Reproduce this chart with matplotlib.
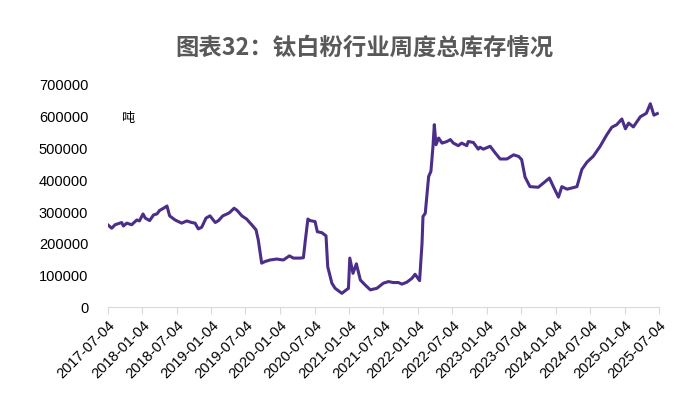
import pandas as pd
import matplotlib.pyplot as plt
import matplotlib.dates as mdates
from matplotlib.ticker import FuncFormatter

plt.rcParams['font.family'] = ['Liberation Sans', 'Noto Sans CJK SC', 'DejaVu Sans']

# 钛白粉行业周度总库存（吨）
dates = [
    '2017-07-04', '2017-07-25', '2017-08-12', '2017-09-16', '2017-09-25', '2017-10-13',
    '2017-11-08', '2017-12-05', '2017-12-19', '2018-01-07', '2018-01-19', '2018-02-11',
    '2018-03-04', '2018-03-22', '2018-04-05', '2018-04-26', '2018-05-14', '2018-05-28',
    '2018-06-26', '2018-07-31', '2018-08-27', '2018-09-22', '2018-10-10', '2018-10-27',
    '2018-11-14', '2018-12-07', '2018-12-28', '2019-01-25', '2019-02-11', '2019-03-06',
    '2019-04-05', '2019-04-14', '2019-05-05', '2019-05-21', '2019-06-15', '2019-07-10',
    '2019-08-06', '2019-08-29', '2019-09-10', '2019-09-28', '2019-10-15', '2019-11-11',
    '2019-12-16', '2020-01-21', '2020-02-22', '2020-03-14', '2020-04-19', '2020-05-06',
    '2020-05-16', '2020-05-30', '2020-06-11', '2020-07-07', '2020-07-19', '2020-08-12',
    '2020-09-03', '2020-09-12', '2020-10-04', '2020-10-21', '2020-11-08', '2020-11-26',
    '2020-12-13', '2020-12-31', '2021-01-07', '2021-01-24', '2021-02-11', '2021-03-04',
    '2021-03-30', '2021-04-26', '2021-05-31', '2021-07-04', '2021-07-31', '2021-08-26',
    '2021-09-22', '2021-10-10', '2021-11-05', '2021-12-02', '2021-12-19', '2022-01-12',
    '2022-01-25', '2022-01-30', '2022-02-11', '2022-03-01', '2022-03-13', '2022-03-24',
    '2022-03-31', '2022-04-09', '2022-04-23', '2022-05-11', '2022-06-06', '2022-06-24',
    '2022-07-10', '2022-08-05', '2022-08-23', '2022-09-19', '2022-09-27', '2022-10-24',
    '2022-11-19', '2022-11-28', '2022-12-16', '2023-01-21', '2023-02-17', '2023-03-15',
    '2023-04-20', '2023-05-25', '2023-06-21', '2023-07-07', '2023-07-25', '2023-08-20',
    '2023-10-03', '2023-10-30', '2023-12-01', '2023-12-22', '2024-01-18', '2024-02-05',
    '2024-03-03', '2024-03-31', '2024-04-25', '2024-05-21', '2024-06-17', '2024-07-21',
    '2024-08-26', '2024-09-30', '2024-10-27', '2024-11-22', '2024-12-19', '2025-01-07',
    '2025-01-24', '2025-02-18', '2025-03-27', '2025-04-28', '2025-05-19', '2025-06-07',
    '2025-06-25',
]
kucun = [
    260000, 249000, 260000, 267000, 256000, 265000,
    260000, 275000, 272000, 294000, 281000, 273000,
    291000, 294000, 305000, 312000, 319000, 288000,
    275000, 265000, 272000, 267000, 265000, 247000,
    252000, 281000, 288000, 267000, 273000, 288000,
    296000, 300000, 312000, 305000, 288000, 278000,
    260000, 244000, 212000, 139000, 144000, 149000,
    152000, 149000, 162000, 155000, 155000, 156000,
    209000, 278000, 273000, 270000, 238000, 235000,
    225000, 128000, 76000, 60000, 52000, 44000,
    52000, 60000, 155000, 107000, 137000, 86000,
    70000, 55000, 60000, 76000, 81000, 78000,
    78000, 73000, 79000, 91000, 104000, 84000,
    202000, 286000, 296000, 412000, 428000, 507000,
    575000, 512000, 533000, 517000, 522000, 528000,
    517000, 509000, 517000, 509000, 522000, 519000,
    498000, 504000, 498000, 507000, 486000, 467000,
    467000, 480000, 475000, 465000, 410000, 380000,
    378000, 391000, 407000, 380000, 347000, 380000,
    372000, 376000, 380000, 434000, 457000, 476000,
    507000, 543000, 567000, 575000, 593000, 562000,
    580000, 568000, 600000, 611000, 641000, 605000,
    610000,
]
tick_labels = [
    '2017-07-04', '2018-01-04', '2018-07-04', '2019-01-04', '2019-07-04', '2020-01-04',
    '2020-07-04', '2021-01-04', '2021-07-04', '2022-01-04', '2022-07-04', '2023-01-04',
    '2023-07-04', '2024-01-04', '2024-07-04', '2025-01-04', '2025-07-04',
]

fig = plt.figure(figsize=(6.91, 3.94), dpi=100)
ax = fig.add_axes([0.1559, 0.22, 0.7978, 0.5643])

ax.plot(pd.to_datetime(dates), kucun, color='#4b2d8a', linewidth=2.2)

ax.set_xlim(pd.Timestamp(tick_labels[0]), pd.Timestamp(tick_labels[-1]))
ax.set_ylim(0, 700000)
ax.set_yticks(range(0, 700001, 100000))
ax.yaxis.set_major_formatter(FuncFormatter(lambda v, p: f'{int(v)}'))
ax.set_xticks(pd.to_datetime(tick_labels))
ax.xaxis.set_major_formatter(mdates.DateFormatter('%Y-%m-%d'))
plt.setp(ax.get_xticklabels(), rotation=45, ha='right', rotation_mode='anchor')

for s in ['top', 'right', 'left']:
    ax.spines[s].set_visible(False)
ax.spines['bottom'].set_color('#d9d9d9')
ax.tick_params(axis='x', colors='#d9d9d9', length=5, width=0.8, labelcolor='black', labelsize=10.5, pad=3)
ax.tick_params(axis='y', length=0, labelsize=10.5, pad=14)

fig.text(0.527, 0.88, '图表32：钛白粉行业周度总库存情况', ha='center', va='center',
         fontsize=16.8, fontweight='bold', color='#595959', family=['Noto Sans CJK SC', 'DejaVu Sans'])
fig.text(0.185, 0.70, '吨', ha='center', va='center', fontsize=9.5, color='black',
         family=['Noto Sans CJK SC', 'DejaVu Sans'])

fig.savefig('out.png', dpi=100)
